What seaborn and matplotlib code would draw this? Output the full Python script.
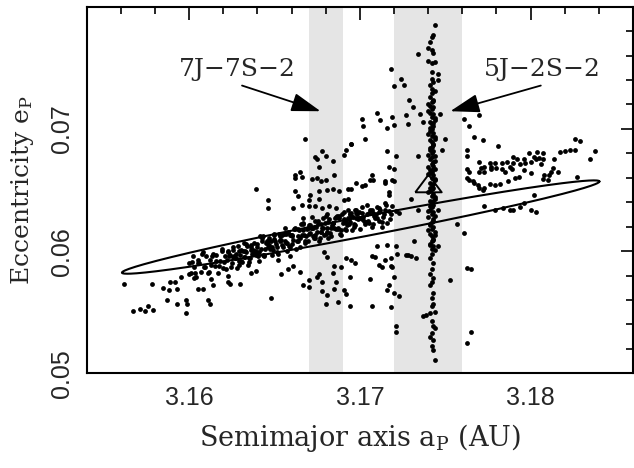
import numpy as np
import pandas as pd
import matplotlib
matplotlib.use("Agg")
import matplotlib.pyplot as plt
import matplotlib.ticker as mticker
import seaborn as sns

#==========================================================================
# data: (semimajor axis a_P [AU], eccentricity e_P)
#==========================================================================
lower_left = [
    (3.1562, 0.0573), (3.1567, 0.0551), (3.1571, 0.0553), (3.1574, 0.0551), (3.1576, 0.0555),
    (3.1579, 0.0552), (3.1578, 0.0573), (3.1585, 0.0570), (3.1587, 0.0560), (3.1588, 0.0568),
    (3.1589, 0.0575), (3.1592, 0.0575), (3.1593, 0.0569), (3.1593, 0.0557), (3.1595, 0.0579),
    (3.1598, 0.0549), (3.1598, 0.0560), (3.1599, 0.0557), (3.1600, 0.0581), (3.1603, 0.0578),
    (3.1605, 0.0569), (3.1608, 0.0569), (3.1611, 0.0560), (3.1612, 0.0557), (3.1613, 0.0577),
    (3.1614, 0.0572), (3.1623, 0.0575), (3.1623, 0.0580), (3.1624, 0.0573), (3.1630, 0.0573),
    (3.1636, 0.0582), (3.1639, 0.0584), (3.1648, 0.0562), (3.1654, 0.0581), (3.1658, 0.0585),
    (3.1665, 0.0583), (3.1652, 0.0593), (3.1659, 0.0596), (3.1661, 0.0588),
]

main_band = [
    (3.1600, 0.0590), (3.1601, 0.0582), (3.1602, 0.0596), (3.1603, 0.0587), (3.1604, 0.0579),
    (3.1605, 0.0593), (3.1606, 0.0590), (3.1607, 0.0583), (3.1608, 0.0599), (3.1609, 0.0587),
    (3.1610, 0.0596), (3.1611, 0.0582), (3.1612, 0.0593), (3.1613, 0.0589), (3.1614, 0.0598),
    (3.1615, 0.0588), (3.1616, 0.0597), (3.1617, 0.0582), (3.1618, 0.0592), (3.1619, 0.0602),
    (3.1620, 0.0586), (3.1621, 0.0596), (3.1622, 0.0593), (3.1623, 0.0600), (3.1624, 0.0597),
    (3.1625, 0.0590), (3.1626, 0.0603), (3.1627, 0.0594), (3.1628, 0.0586), (3.1629, 0.0600),
    (3.1630, 0.0597), (3.1631, 0.0591), (3.1632, 0.0607), (3.1633, 0.0595), (3.1634, 0.0604),
    (3.1635, 0.0591), (3.1636, 0.0601), (3.1637, 0.0598), (3.1638, 0.0607), (3.1639, 0.0597),
    (3.1640, 0.0606), (3.1641, 0.0592), (3.1642, 0.0602), (3.1643, 0.0612), (3.1644, 0.0596),
    (3.1645, 0.0607), (3.1646, 0.0603), (3.1647, 0.0611), (3.1648, 0.0608), (3.1649, 0.0601),
    (3.1650, 0.0614), (3.1651, 0.0606), (3.1652, 0.0598), (3.1653, 0.0612), (3.1654, 0.0609),
    (3.1655, 0.0603), (3.1656, 0.0619), (3.1657, 0.0607), (3.1658, 0.0616), (3.1659, 0.0603),
    (3.1660, 0.0613), (3.1661, 0.0609), (3.1662, 0.0619), (3.1663, 0.0608), (3.1664, 0.0618),
    (3.1665, 0.0603), (3.1666, 0.0613), (3.1667, 0.0623), (3.1668, 0.0607), (3.1669, 0.0618),
    (3.1670, 0.0614), (3.1671, 0.0621), (3.1672, 0.0619), (3.1673, 0.0611), (3.1674, 0.0625),
    (3.1675, 0.0616), (3.1676, 0.0608), (3.1677, 0.0622), (3.1678, 0.0619), (3.1679, 0.0613),
    (3.1680, 0.0629), (3.1681, 0.0616), (3.1682, 0.0626), (3.1683, 0.0612), (3.1684, 0.0623),
    (3.1685, 0.0619), (3.1686, 0.0628), (3.1687, 0.0618), (3.1688, 0.0627), (3.1689, 0.0613),
    (3.1690, 0.0623), (3.1691, 0.0632), (3.1692, 0.0617), (3.1693, 0.0627), (3.1694, 0.0624),
    (3.1695, 0.0631), (3.1696, 0.0628), (3.1697, 0.0621), (3.1698, 0.0634), (3.1699, 0.0626),
    (3.1700, 0.0618), (3.1701, 0.0631), (3.1702, 0.0628), (3.1703, 0.0622), (3.1704, 0.0638),
    (3.1705, 0.0625), (3.1706, 0.0634), (3.1707, 0.0620), (3.1708, 0.0631), (3.1709, 0.0627),
    (3.1710, 0.0636), (3.1711, 0.0625), (3.1712, 0.0634), (3.1713, 0.0620), (3.1714, 0.0630),
    (3.1715, 0.0639), (3.1716, 0.0623), (3.1717, 0.0633), (3.1718, 0.0630), (3.1719, 0.0637),
    (3.16205, 0.0591), (3.16225, 0.0599), (3.16245, 0.0587), (3.16265, 0.0596), (3.16285, 0.0604),
    (3.16305, 0.0592), (3.16325, 0.0600), (3.16345, 0.0589), (3.16365, 0.0605), (3.16385, 0.0600),
    (3.16405, 0.0596), (3.16425, 0.0611), (3.16445, 0.0602), (3.16465, 0.0608), (3.16485, 0.0597),
    (3.16505, 0.0608), (3.16525, 0.0614), (3.16545, 0.0605), (3.16565, 0.0614), (3.16585, 0.0604),
    (3.16605, 0.0612), (3.16625, 0.0602), (3.16645, 0.0617), (3.16665, 0.0622), (3.16685, 0.0612),
    (3.16705, 0.0621), (3.16725, 0.0612), (3.16745, 0.0620), (3.16765, 0.0611), (3.16785, 0.0627),
    (3.16805, 0.0619), (3.16825, 0.0615), (3.16845, 0.0623), (3.16865, 0.0629), (3.16885, 0.0614),
    (3.16905, 0.0624), (3.16925, 0.0621), (3.16945, 0.0630), (3.16965, 0.0620), (3.16985, 0.0630),
    (3.16015, 0.0591), (3.16035, 0.0582), (3.16055, 0.0590), (3.16075, 0.0598), (3.16095, 0.0587),
    (3.16115, 0.0583), (3.16135, 0.0596), (3.16155, 0.0592), (3.16175, 0.0588), (3.16195, 0.0600),
    (3.16215, 0.0585), (3.16235, 0.0596), (3.16255, 0.0601), (3.16275, 0.0594), (3.16295, 0.0589),
    (3.16315, 0.0600), (3.16335, 0.0606), (3.16355, 0.0594), (3.16375, 0.0601), (3.16395, 0.0599),
    (3.16415, 0.0612), (3.16435, 0.0597), (3.16455, 0.0608), (3.16475, 0.0602), (3.16495, 0.0613),
    (3.16515, 0.0599), (3.16535, 0.0608), (3.16555, 0.0614), (3.16575, 0.0600), (3.16595, 0.0613),
    (3.16615, 0.0618), (3.16635, 0.0608), (3.16655, 0.0622), (3.16675, 0.0613), (3.16695, 0.0608),
    (3.16715, 0.0619), (3.16735, 0.0611), (3.16755, 0.0625), (3.16775, 0.0616), (3.16795, 0.0623),
    (3.16815, 0.0611), (3.16835, 0.0621), (3.16855, 0.0627), (3.16875, 0.0619), (3.16895, 0.0630),
    (3.16915, 0.0618), (3.16935, 0.0626), (3.16955, 0.0617), (3.16975, 0.0631), (3.16995, 0.0627),
    (3.17015, 0.0636), (3.17035, 0.0624), (3.17055, 0.0631), (3.17075, 0.0622), (3.17095, 0.0630),
    (3.17115, 0.0635), (3.17135, 0.0628), (3.17155, 0.0638), (3.17175, 0.0626),
    (3.1626, 0.0595), (3.16275, 0.0598), (3.1629, 0.0592), (3.16305, 0.0601), (3.1632, 0.0595),
    (3.16335, 0.0599), (3.1635, 0.0594), (3.16365, 0.0603), (3.1638, 0.0599), (3.16395, 0.0603),
    (3.1641, 0.0599), (3.16425, 0.0608), (3.1644, 0.0597), (3.16455, 0.0607), (3.1647, 0.0605),
    (3.16485, 0.0603), (3.1650, 0.0610), (3.16515, 0.0603), (3.1653, 0.0609), (3.16545, 0.0613),
    (3.1656, 0.0608), (3.16575, 0.0607), (3.1659, 0.0613), (3.16605, 0.0606), (3.1662, 0.0618),
    (3.16635, 0.0612), (3.1665, 0.0611), (3.16665, 0.0617), (3.1668, 0.0608), (3.16695, 0.0619),
    (3.1671, 0.0615), (3.16725, 0.0619), (3.1674, 0.0613), (3.16755, 0.0622), (3.1677, 0.0616),
    (3.16785, 0.0619), (3.1680, 0.0614), (3.16815, 0.0624), (3.1683, 0.0619), (3.16845, 0.0623),
    (3.1686, 0.0618), (3.16875, 0.0628), (3.1689, 0.0617), (3.16905, 0.0626), (3.1692, 0.0624),
    (3.16935, 0.0622), (3.1695, 0.0629), (3.16965, 0.0622), (3.1698, 0.0627), (3.16995, 0.0632),
    (3.1701, 0.0626), (3.17025, 0.0625), (3.1704, 0.0630), (3.17055, 0.0623), (3.1707, 0.0634),
    (3.17085, 0.0629), (3.1710, 0.0627), (3.17115, 0.0632), (3.1713, 0.0624), (3.17145, 0.0634),
]

cloud_7j = [
    (3.1667, 0.0572), (3.1670, 0.0571), (3.1670, 0.0576), (3.1675, 0.0579), (3.1676, 0.0581),
    (3.1678, 0.0575), (3.1678, 0.0567), (3.1681, 0.0564), (3.1680, 0.0557), (3.1681, 0.0595),
    (3.1679, 0.0599), (3.1684, 0.0582), (3.1685, 0.0588), (3.1686, 0.0575), (3.1685, 0.0569),
    (3.1687, 0.0558), (3.1689, 0.0587), (3.1691, 0.0568), (3.1692, 0.0565), (3.1692, 0.0594),
    (3.1694, 0.0555), (3.1694, 0.0579), (3.1695, 0.0593), (3.1697, 0.0590), (3.1706, 0.0577),
    (3.1707, 0.0555), (3.1709, 0.0595), (3.1713, 0.0587), (3.1716, 0.0568), (3.1717, 0.0572),
    (3.1718, 0.0554), (3.1719, 0.0587), (3.1720, 0.0566), (3.1720, 0.0579), (3.1721, 0.0539),
    (3.1721, 0.0534), (3.1723, 0.0563), (3.1722, 0.0598), (3.1728, 0.0597), (3.1733, 0.0594),
    (3.1737, 0.0547), (3.1753, 0.0576), (3.1765, 0.0534), (3.1763, 0.0525), (3.1765, 0.0585),
    (3.1668, 0.0692), (3.1695, 0.0688), (3.1692, 0.0683), (3.1691, 0.0679), (3.1674, 0.0677),
    (3.1678, 0.0682), (3.1680, 0.0678), (3.1675, 0.0675), (3.1684, 0.0674), (3.1676, 0.0669),
    (3.1665, 0.0665), (3.1662, 0.0662), (3.1662, 0.0660), (3.1666, 0.0661), (3.1672, 0.0659),
    (3.1675, 0.0660), (3.1677, 0.0657), (3.1680, 0.0658), (3.1685, 0.0662), (3.1639, 0.0651),
    (3.1662, 0.0649), (3.1664, 0.0645), (3.1671, 0.0646), (3.1676, 0.0649), (3.1681, 0.0650),
    (3.1684, 0.0651), (3.1688, 0.0649), (3.1693, 0.0651), (3.1698, 0.0656), (3.1646, 0.0642),
    (3.1646, 0.0635), (3.1661, 0.0635), (3.1666, 0.0638), (3.1670, 0.0637), (3.1674, 0.0637),
    (3.1678, 0.0635), (3.1682, 0.0637), (3.1686, 0.0635), (3.1691, 0.0642), (3.1693, 0.0643),
    (3.1670, 0.0642), (3.1676, 0.0643), (3.1693, 0.0634), (3.1697, 0.0634), (3.1667, 0.0627),
    (3.1672, 0.0628), (3.1681, 0.0630), (3.1688, 0.0629), (3.1694, 0.0630),
]

upper_mid = [
    (3.1702, 0.0702), (3.1712, 0.0707), (3.1720, 0.0703), (3.1728, 0.0704), (3.1737, 0.0706),
    (3.1764, 0.0702), (3.1770, 0.0711), (3.1718, 0.0749), (3.1726, 0.0736), (3.1724, 0.0741),
    (3.1720, 0.0735), (3.1729, 0.0724), (3.1731, 0.0718), (3.1734, 0.0761), (3.1746, 0.0740),
    (3.1746, 0.0745), (3.1767, 0.0718), (3.1710, 0.0713), (3.1719, 0.0710), (3.1727, 0.0711),
    (3.1735, 0.0712), (3.1747, 0.0712), (3.1761, 0.0708), (3.1701, 0.0708), (3.1716, 0.0701),
    (3.1703, 0.0692), (3.1695, 0.0688), (3.1716, 0.0682), (3.1721, 0.0678), (3.1734, 0.0678),
    (3.1748, 0.0683), (3.1750, 0.0692), (3.1763, 0.0683), (3.1763, 0.0678), (3.1767, 0.0693),
    (3.1772, 0.0691), (3.1781, 0.0686), (3.1717, 0.0669), (3.1720, 0.0667), (3.1719, 0.0658),
    (3.1715, 0.0657), (3.1707, 0.0662), (3.1706, 0.0658), (3.1708, 0.0658), (3.1703, 0.0654),
    (3.1701, 0.0653), (3.1695, 0.0651), (3.1717, 0.0648), (3.1730, 0.0643), (3.1721, 0.0633),
    (3.1723, 0.0631), (3.1734, 0.0634), (3.1746, 0.0634), (3.1744, 0.0667), (3.1757, 0.0622),
    (3.1761, 0.0615), (3.1732, 0.0608), (3.1727, 0.0597), (3.1730, 0.0596), (3.1746, 0.0604),
    (3.1710, 0.0604), (3.1716, 0.0605), (3.1721, 0.0604), (3.1715, 0.0593), (3.1718, 0.0594),
    (3.1718, 0.0588), (3.1707, 0.0596), (3.1711, 0.0589), (3.1763, 0.0586), (3.1717, 0.0646),
    (3.1720, 0.0657), (3.1715, 0.0656),
]

right_cluster = [
    (3.1763, 0.0667), (3.1764, 0.0665), (3.1763, 0.0660), (3.1764, 0.0658), (3.1766, 0.0657),
    (3.1767, 0.0656), (3.1769, 0.0654), (3.1770, 0.0652), (3.1772, 0.0650), (3.1773, 0.0652),
    (3.1770, 0.0665), (3.1771, 0.0668), (3.1770, 0.0673), (3.1773, 0.0669), (3.1773, 0.0665),
    (3.1776, 0.0672), (3.1777, 0.0669), (3.1779, 0.0672), (3.1777, 0.0667), (3.1780, 0.0668),
    (3.1783, 0.0672), (3.1783, 0.0667), (3.1785, 0.0665), (3.1786, 0.0673), (3.1788, 0.0669),
    (3.1790, 0.0672), (3.1790, 0.0677), (3.1792, 0.0675), (3.1789, 0.0667), (3.1794, 0.0671),
    (3.1796, 0.0675), (3.1796, 0.0666), (3.1797, 0.0672), (3.1799, 0.0680), (3.1800, 0.0673),
    (3.1800, 0.0664), (3.1802, 0.0677), (3.1803, 0.0675), (3.1804, 0.0681), (3.1805, 0.0676),
    (3.1807, 0.0680), (3.1807, 0.0675), (3.1806, 0.0671), (3.1808, 0.0662), (3.1810, 0.0658),
    (3.1812, 0.0665), (3.1814, 0.0675), (3.1816, 0.0665), (3.1817, 0.0681), (3.1820, 0.0682),
    (3.1823, 0.0683), (3.1826, 0.0683), (3.1826, 0.0692), (3.1829, 0.0690), (3.1827, 0.0661),
    (3.1835, 0.0675), (3.1838, 0.0682), (3.1782, 0.0655), (3.1787, 0.0657), (3.1791, 0.0660),
    (3.1793, 0.0661), (3.1776, 0.0655), (3.1779, 0.0654), (3.1813, 0.0668), (3.1811, 0.0662),
    (3.1807, 0.0659), (3.1773, 0.0637), (3.1779, 0.0634), (3.1784, 0.0635), (3.1788, 0.0634),
    (3.1790, 0.0634), (3.1794, 0.0636), (3.1800, 0.0634), (3.1803, 0.0632), (3.1802, 0.0646),
    (3.1796, 0.0639),
]

stream_5j = [
    (3.1744, 0.0785), (3.1743, 0.0777), (3.1742, 0.0775), (3.1741, 0.0771), (3.1740, 0.0766),
    (3.1742, 0.0765), (3.1743, 0.0762), (3.1740, 0.0756), (3.1742, 0.0754), (3.1744, 0.0755),
    (3.1742, 0.0747), (3.1742, 0.0741), (3.1743, 0.0738), (3.1741, 0.0736), (3.1742, 0.0733),
    (3.1744, 0.0731), (3.1742, 0.0729), (3.1741, 0.0726), (3.1743, 0.0724), (3.1742, 0.0722),
    (3.1740, 0.0720), (3.1743, 0.0718), (3.1742, 0.0716), (3.1741, 0.0713), (3.1743, 0.0712),
    (3.1742, 0.0710), (3.1744, 0.0707), (3.1741, 0.0706), (3.1742, 0.0704), (3.1743, 0.0702),
    (3.1742, 0.0700), (3.1741, 0.0698), (3.1743, 0.0697), (3.1742, 0.0694), (3.1744, 0.0693),
    (3.1741, 0.0691), (3.1742, 0.0689), (3.1743, 0.0687), (3.1742, 0.0685), (3.1741, 0.0684),
    (3.1743, 0.0682), (3.1742, 0.0680), (3.1744, 0.0678), (3.1742, 0.0677), (3.1741, 0.0675),
    (3.1743, 0.0673), (3.1742, 0.0671), (3.1740, 0.0669), (3.1743, 0.0667), (3.1742, 0.0665),
    (3.1741, 0.0664), (3.1743, 0.0662), (3.1742, 0.0660), (3.1744, 0.0658), (3.1741, 0.0656),
    (3.1742, 0.0654), (3.1743, 0.0652), (3.1742, 0.0651), (3.1741, 0.0649), (3.1743, 0.0647),
    (3.1742, 0.0645), (3.1744, 0.0643), (3.1741, 0.0641), (3.1742, 0.0640), (3.1743, 0.0638),
    (3.1742, 0.0636), (3.1741, 0.0634), (3.1743, 0.0632), (3.1742, 0.0630), (3.1740, 0.0628),
    (3.1743, 0.0626), (3.1742, 0.0624), (3.1741, 0.0622), (3.1743, 0.0620), (3.1742, 0.0618),
    (3.1744, 0.0616), (3.1741, 0.0614), (3.1742, 0.0612), (3.1743, 0.0610), (3.1742, 0.0608),
    (3.1741, 0.0606), (3.1743, 0.0604), (3.1742, 0.0602), (3.1744, 0.0601), (3.1742, 0.0598),
    (3.1741, 0.0594), (3.1743, 0.0590), (3.1742, 0.0585), (3.1741, 0.0581), (3.1743, 0.0578),
    (3.1742, 0.0575), (3.1741, 0.0572), (3.1743, 0.0566), (3.1742, 0.0562), (3.1743, 0.0557),
    (3.1742, 0.0555), (3.1744, 0.0550), (3.1741, 0.0549), (3.1739, 0.0548), (3.1742, 0.0543),
    (3.1743, 0.0539), (3.1744, 0.0537), (3.1742, 0.0533), (3.1741, 0.0530), (3.1743, 0.0527),
    (3.1742, 0.0522), (3.1743, 0.0519), (3.1744, 0.0511),
    (3.1741, 0.0605), (3.1743, 0.0609), (3.1744, 0.0613), (3.1740, 0.0617), (3.1741, 0.0621),
    (3.1743, 0.0625), (3.1744, 0.0629), (3.1740, 0.0633), (3.1741, 0.0637), (3.1743, 0.0641),
    (3.1744, 0.0644), (3.1740, 0.0648), (3.1741, 0.0652), (3.1743, 0.0655), (3.1744, 0.0659),
    (3.1740, 0.0663), (3.1741, 0.0666), (3.1743, 0.0670), (3.1744, 0.0674), (3.1740, 0.0679),
    (3.1741, 0.0683), (3.1743, 0.0688), (3.1744, 0.0692), (3.1740, 0.0696), (3.1741, 0.0701),
    (3.1743, 0.0705), (3.1744, 0.0709), (3.1740, 0.0715), (3.1741, 0.0719), (3.1743, 0.0723),
]

# mean-element trajectory (ellipse) and starting point
ellipse_center = (3.17005, 0.06197)
ellipse_major = (0.013985, 0.00373)
ellipse_minor = (0.0, 0.00082)
start_point = (3.1740, 0.0656)

# resonance bands and labels
resonance_bands = [(3.167, 3.169), (3.172, 3.176)]
resonance_names = ["7J\u22127S\u22122", "5J\u22122S\u22122"]
label_xy = [(3.1628, 0.0749), (3.1807, 0.0749)]
arrow_from = [(3.1631, 0.07355), (3.1806, 0.07355)]
arrow_to = [(3.1677, 0.07145), (3.1753, 0.07145)]

#==========================================================================
# build table
#==========================================================================
groups = [lower_left, main_band, cloud_7j, upper_mid, right_cluster, stream_5j]
df = pd.DataFrame([p for g in groups for p in g], columns=["a", "e"])

theta = np.linspace(0, 2 * np.pi, 400)
ell = pd.DataFrame({
    "a": ellipse_center[0] + ellipse_major[0] * np.cos(theta) + ellipse_minor[0] * np.sin(theta),
    "e": ellipse_center[1] + ellipse_major[1] * np.cos(theta) + ellipse_minor[1] * np.sin(theta),
})

#==========================================================================
# plot
#==========================================================================
sns.set_style("white")
plt.rcParams["font.family"] = ["DejaVu Serif"]
plt.rcParams["mathtext.fontset"] = "dejavuserif"

fig = plt.figure(figsize=(6.34, 4.68), dpi=100)
ax = fig.add_axes([0.1367, 0.2023, 0.8617, 0.7833])

for lo, hi in resonance_bands:
    ax.axvspan(lo, hi, color="#e5e5e5", lw=0, zorder=0)

sns.scatterplot(data=df, x="a", y="e", color="black", s=12, linewidth=0,
                legend=False, ax=ax, zorder=3)
sns.lineplot(data=ell, x="a", y="e", sort=False, estimator=None, color="black",
             lw=1.5, ax=ax, zorder=4)

tri = [(-1.5, -1), (1.5, -1), (0, 1), (-1.5, -1)]
ax.plot(start_point[0], start_point[1], marker=tri, markersize=19,
        mfc="none", mec="black", mew=1.4, ls="none", zorder=5)

for name, txy, fxy, pxy in zip(resonance_names, label_xy, arrow_from, arrow_to):
    ax.text(txy[0], txy[1], name, ha="center", va="center", fontsize=18,
            family="DejaVu Serif")
    ax.annotate("", xy=pxy, xytext=fxy,
                arrowprops=dict(arrowstyle="-|>,head_length=1.0,head_width=0.32",
                                color="black", lw=1.3, mutation_scale=18,
                                shrinkA=0, shrinkB=0))

ax.set_xlim(3.154, 3.186)
ax.set_ylim(0.05, 0.08)
ax.xaxis.set_major_locator(mticker.FixedLocator([3.16, 3.17, 3.18]))
ax.xaxis.set_minor_locator(mticker.MultipleLocator(0.002))
ax.yaxis.set_major_locator(mticker.FixedLocator([0.05, 0.06, 0.07]))
ax.yaxis.set_minor_locator(mticker.MultipleLocator(0.002))
ax.xaxis.set_major_formatter(mticker.FormatStrFormatter("%.2f"))
ax.yaxis.set_major_formatter(mticker.FormatStrFormatter("%.2f"))

ax.tick_params(which="both", direction="in", top=True, right=True, width=1.2,
               color="black")
ax.tick_params(which="major", length=9, labelsize=18, pad=9)
ax.tick_params(which="minor", length=5)
for lab in ax.get_xticklabels() + ax.get_yticklabels():
    lab.set_family(["Liberation Sans", "DejaVu Sans"])
for lab in ax.get_yticklabels():
    lab.set_rotation(90)
    lab.set_va("center")

for sp in ax.spines.values():
    sp.set_linewidth(1.5)
    sp.set_color("black")

ax.set_xlabel(r"Semimajor axis a$_\mathrm{P}$ (AU)", fontsize=19.5, labelpad=9)
ax.set_ylabel(r"Eccentricity e$_\mathrm{P}$", fontsize=18, labelpad=10)

plt.savefig("out.png", dpi=100)
